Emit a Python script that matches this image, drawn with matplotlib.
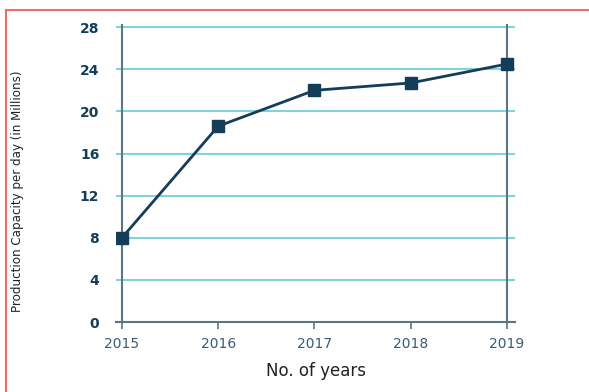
import matplotlib
matplotlib.use("Agg")
import matplotlib.pyplot as plt
from matplotlib.patches import Rectangle

years = [2015, 2016, 2017, 2018, 2019]
capacity = [8, 18.6, 22, 22.7, 24.5]
yticks = [0, 4, 8, 12, 16, 20, 24, 28]

navy = '#143d5a'
spine = '#5b7486'
grid = '#7fd3d9'

fig = plt.figure(figsize=(5.89, 3.92), dpi=100)
ax = fig.add_axes([116/589, 1-322/392, (515-116)/589, (322-24)/392])

ax.set_xlim(2015 - 0.062, 2019 + 0.083)
ax.set_ylim(0, 28.3)

for y in yticks[1:]:
    ax.axhline(y, color=grid, lw=1.5, zorder=1)
ax.axvline(2015, color=spine, lw=1.5, zorder=2)
ax.axvline(2019, color=spine, lw=1.5, zorder=2)

ax.plot(years, capacity, color=navy, lw=2, marker='s', markersize=8, zorder=3)

for s in ['top', 'right', 'left']:
    ax.spines[s].set_visible(False)
ax.spines['bottom'].set_color(spine)
ax.spines['bottom'].set_linewidth(1.5)

ax.set_xticks(years)
ax.set_xticklabels([str(y) for y in years], fontsize=10, color='#3e5a70')
ax.set_yticks(yticks)
ax.set_yticklabels([str(y) for y in yticks], fontsize=10, fontweight='bold', color=navy)
ax.tick_params(axis='x', length=5, width=1.2, color=spine, pad=6)
ax.tick_params(axis='y', length=0, pad=12)

ax.set_xlabel('No. of years', fontsize=12, color='#222222', labelpad=8)
fig.text(18/589, 1-191/392, 'Production Capacity per day (in Millions)', rotation=90,
         fontsize=8.6, color='#222222', ha='center', va='center')

fig.patches.append(Rectangle((6/589, -0.1), 1.1, 1-10/392+0.1, transform=fig.transFigure,
                             fill=False, edgecolor='#f26b6b', lw=1.5))

fig.savefig('out.png', dpi=100)
